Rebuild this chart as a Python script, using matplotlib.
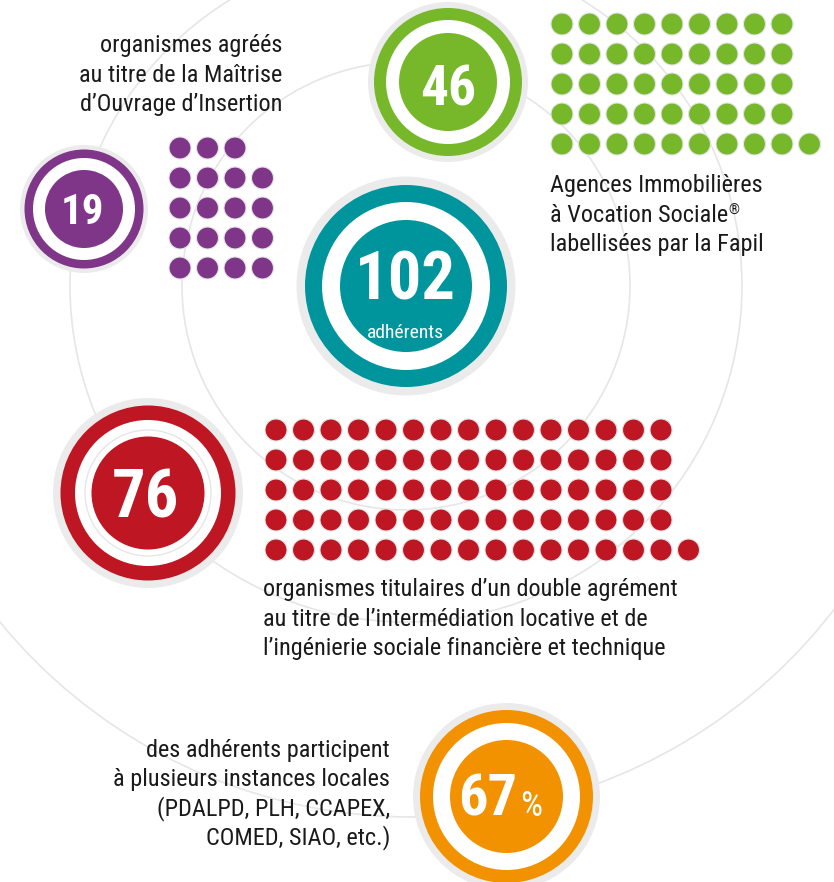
import matplotlib
matplotlib.use("Agg")
import matplotlib.pyplot as plt
from matplotlib.patches import Circle
from matplotlib import font_manager as fm

################################################################################
# data
VALUES      = ["19", "46", "102", "76", "67"]
COLORS      = ["#7f3689", "#76b82a", "#00949d", "#be1622", "#f39200"]
PURPLE_ROWS = [3, 4, 4, 4, 4]          # 19 dots
GREEN_ROWS  = [9, 9, 9, 9, 10]         # 46 dots
RED_ROWS    = [15, 15, 15, 15, 16]     # 76 dots

TXT_MOI = ["organismes agréés", "au titre de la Maîtrise", "d\u2019Ouvrage d\u2019Insertion"]
TXT_AIVS = ["Agences Immobilières", "à Vocation Sociale", "labellisées par la Fapil"]
TXT_DOUBLE = ["organismes titulaires d\u2019un double agrément",
              "au titre de l\u2019intermédiation locative et de",
              "l\u2019ingénierie sociale financière et technique"]
TXT_LOCAL = ["des adhérents participent", "à plusieurs instances locales",
             "(PDALPD, PLH, CCAPEX,", "COMED, SIAO, etc.)"]
SUB_102 = "adhérents"

################################################################################
names = {f.name for f in fm.fontManager.ttflist}
FONT = "DejaVu Sans"
for cand in ["Roboto Condensed", "Liberation Sans Narrow", "DejaVu Sans Condensed",
             "Open Sans Condensed", "Noto Sans Condensed"]:
    if cand in names:
        FONT = cand
        break

W, H = 834, 882
fig = plt.figure(figsize=(W / 100, H / 100), dpi=100)
ax = fig.add_axes([0, 0, 1, 1])
ax.set_xlim(0, W)
ax.set_ylim(H, 0)
ax.set_aspect("equal")
ax.axis("off")

LINE = "#e6e6e6"
GRAY = "#ebebeb"
TXT = "#1a1a1a"

# background concentric circles
for cx, cy, r in [(406, 286, 224), (406, 286, 336), (412, 284, 533)]:
    ax.add_patch(Circle((cx, cy), r, fill=False, ec=LINE, lw=1.2, zorder=0))


def badge(cx, cy, r_gray, r_col, r_white, r_in, color):
    ax.add_patch(Circle((cx, cy), r_gray, fc=GRAY, ec="none", zorder=2))
    ax.add_patch(Circle((cx, cy), r_col, fc=color, ec="none", zorder=3))
    ax.add_patch(Circle((cx, cy), r_white, fc="white", ec="none", zorder=4))
    ax.add_patch(Circle((cx, cy), r_in, fc=color, ec="none", zorder=5))


def dots(x0, y0, rows, color, dx=27.5, dy=30.0, r=11):
    for i, n in enumerate(rows):
        for j in range(n):
            ax.add_patch(Circle((x0 + j * dx, y0 + i * dy), r, fc=color,
                                ec="#e4e4e4", lw=0.8, zorder=3))


def lines(x, y0, txt, ha, dy=29.5, size=17.5):
    out = []
    for i, s in enumerate(txt):
        out.append(ax.text(x, y0 + i * dy, s, ha=ha, va="baseline", fontsize=size,
                           color=TXT, family=FONT, zorder=6))
    return out


# 19 - purple
badge(84, 209, 64, 59.5, 51, 39, COLORS[0])
ax.text(82, 224, VALUES[0], ha="center", va="baseline", fontsize=31,
        fontweight="bold", color="white", family=FONT, zorder=6)
dots(180, 148, PURPLE_ROWS, COLORS[0])
lines(282, 52, TXT_MOI, "right")

# 46 - green
badge(448, 82, 80, 74, 62, 49, COLORS[1])
ax.text(448, 105, VALUES[1], ha="center", va="baseline", fontsize=40,
        fontweight="bold", color="white", family=FONT, zorder=6)
dots(562, 24, GREEN_ROWS, COLORS[1])
aivs = lines(550, 192, TXT_AIVS, "left")
ax.annotate("®", xy=(1.0, 0.98), xycoords=aivs[1], ha="left", va="top",
            fontsize=10, color=TXT, family=FONT, zorder=6)

# 102 - teal
badge(406, 286, 109.5, 101, 84, 66, COLORS[2])
ax.text(405, 300, VALUES[2], ha="center", va="baseline", fontsize=48,
        fontweight="bold", color="white", family=FONT, zorder=6)
ax.text(405, 338, SUB_102, ha="center", va="baseline", fontsize=14,
        color="white", family=FONT, zorder=6)

# 76 - red
badge(148, 493, 95, 87.5, 73, 56.5, COLORS[3])
ax.add_patch(Circle((148, 493), 63, fill=False, ec=LINE, lw=1, zorder=5))
ax.text(145, 518, VALUES[3], ha="center", va="baseline", fontsize=48,
        fontweight="bold", color="white", family=FONT, zorder=6)
dots(276, 430, RED_ROWS, COLORS[3])
lines(263, 596, TXT_DOUBLE, "left")

# 67% - orange
badge(506.5, 796.5, 93.5, 86.5, 73.5, 56.5, COLORS[4])
ax.text(517, 816, VALUES[4], ha="right", va="baseline", fontsize=42,
        fontweight="bold", color="white", family=FONT, zorder=6)
ax.text(520, 816, "%", ha="left", va="baseline", fontsize=25,
        color="white", family=FONT, zorder=6)
lines(390, 757, TXT_LOCAL, "right", dy=29)

fig.savefig("out.png", dpi=100, facecolor="white")
